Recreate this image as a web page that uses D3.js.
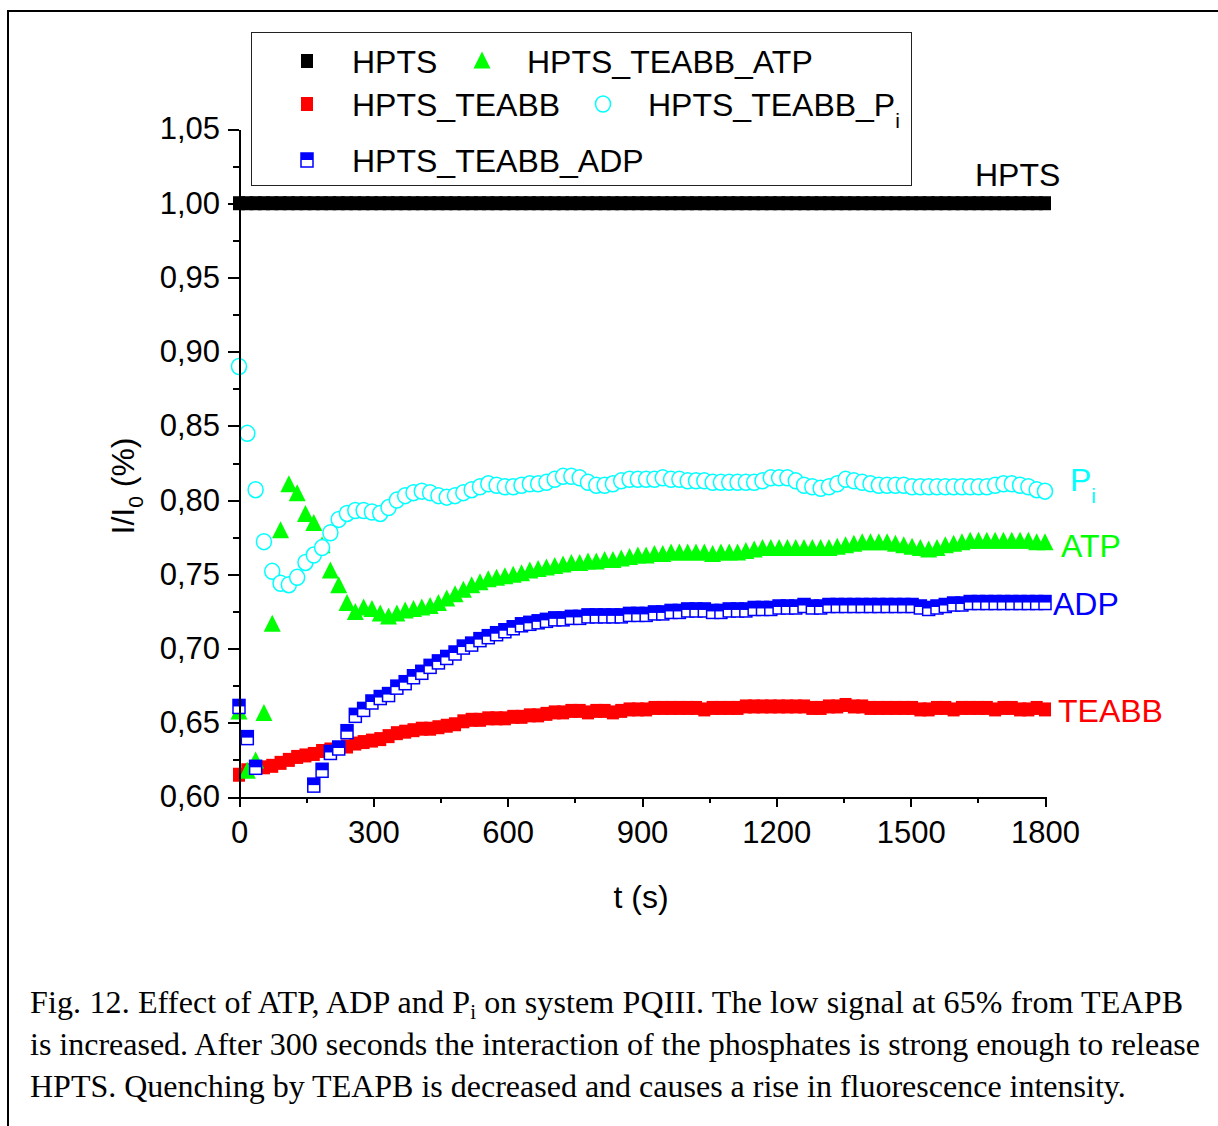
<!DOCTYPE html>
<html lang="en">
<head>
<meta charset="UTF-8">
<title>HPTS / TEABB with ATP, ADP and Pi</title>
<style>
    body { margin: 0; background: #fff; }
    svg { display: block; }
    .axis path, .axis line {
        fill: none;
        stroke: #000;
        stroke-width: 2px;
        shape-rendering: crispEdges;
    }
    .axis text {
        font-family: "Liberation Sans", Arial, sans-serif;
        font-size: 31px;
        fill: #000;
    }
    .lab { font-family: "Liberation Sans", Arial, sans-serif; font-size: 32px; }
    .cap { font-family: "Liberation Serif", "Times New Roman", serif; font-size: 32px; fill: #000; }
</style>
</head>
<body>
<script src="https://d3js.org/d3.v7.min.js"></script>
<script>
// sampling interval of the measurement (98 readings over 1800 s)
var dt = 1800 / 97;

var hpts = [
    1.000, 1.000, 1.000, 1.000, 1.000, 1.000, 1.000, 1.000, 1.000, 1.000,
    1.000, 1.000, 1.000, 1.000, 1.000, 1.000, 1.000, 1.000, 1.000, 1.000,
    1.000, 1.000, 1.000, 1.000, 1.000, 1.000, 1.000, 1.000, 1.000, 1.000,
    1.000, 1.000, 1.000, 1.000, 1.000, 1.000, 1.000, 1.000, 1.000, 1.000,
    1.000, 1.000, 1.000, 1.000, 1.000, 1.000, 1.000, 1.000, 1.000, 1.000,
    1.000, 1.000, 1.000, 1.000, 1.000, 1.000, 1.000, 1.000, 1.000, 1.000,
    1.000, 1.000, 1.000, 1.000, 1.000, 1.000, 1.000, 1.000, 1.000, 1.000,
    1.000, 1.000, 1.000, 1.000, 1.000, 1.000, 1.000, 1.000, 1.000, 1.000,
    1.000, 1.000, 1.000, 1.000, 1.000, 1.000, 1.000, 1.000, 1.000, 1.000,
    1.000, 1.000, 1.000, 1.000, 1.000, 1.000, 1.000, 1.000
];
var teabb = [
    0.615, 0.618, 0.620, 0.620, 0.621, 0.623, 0.625, 0.627, 0.628, 0.629,
    0.631, 0.632, 0.633, 0.634, 0.636, 0.637, 0.638, 0.639, 0.641, 0.643,
    0.644, 0.645, 0.646, 0.646, 0.647, 0.648, 0.649, 0.651, 0.652, 0.652,
    0.653, 0.653, 0.653, 0.654, 0.654, 0.655, 0.655, 0.656, 0.657, 0.657,
    0.658, 0.658, 0.657, 0.658, 0.658, 0.657, 0.658, 0.659, 0.659, 0.659,
    0.660, 0.660, 0.660, 0.660, 0.660, 0.660, 0.659, 0.660, 0.660, 0.660,
    0.660, 0.661, 0.661, 0.661, 0.661, 0.661, 0.661, 0.661, 0.661, 0.660,
    0.660, 0.661, 0.661, 0.662, 0.661, 0.661, 0.660, 0.660, 0.660, 0.660,
    0.660, 0.660, 0.659, 0.659, 0.660, 0.660, 0.659, 0.660, 0.660, 0.660,
    0.660, 0.659, 0.660, 0.660, 0.659, 0.659, 0.660, 0.659
];
var atp = [
    0.658, 0.618, 0.625, 0.657, 0.717, 0.780, 0.811, 0.805, 0.791, 0.785,
    0.770, 0.753, 0.743, 0.731, 0.725, 0.728, 0.727, 0.724, 0.722, 0.724,
    0.726, 0.727, 0.728, 0.729, 0.731, 0.734, 0.737, 0.740, 0.743, 0.745,
    0.747, 0.748, 0.749, 0.750, 0.751, 0.753, 0.754, 0.755, 0.756, 0.757,
    0.758, 0.758, 0.759, 0.759, 0.760, 0.760, 0.761, 0.762, 0.763, 0.763,
    0.764, 0.764, 0.765, 0.765, 0.765, 0.765, 0.765, 0.764, 0.765, 0.765,
    0.765, 0.766, 0.767, 0.768, 0.768, 0.768, 0.768, 0.768, 0.768, 0.768,
    0.768, 0.768, 0.769, 0.770, 0.771, 0.772, 0.772, 0.772, 0.772, 0.771,
    0.770, 0.769, 0.768, 0.767, 0.768, 0.770, 0.771, 0.772, 0.773, 0.773,
    0.773, 0.773, 0.773, 0.773, 0.773, 0.773, 0.772, 0.772
];
var pi = [
    0.890, 0.845, 0.807, 0.772, 0.752, 0.744, 0.743, 0.748, 0.758, 0.763,
    0.768, 0.778, 0.787, 0.791, 0.793, 0.793, 0.792, 0.791, 0.795, 0.800,
    0.803, 0.805, 0.806, 0.805, 0.803, 0.802, 0.803, 0.805, 0.807, 0.809,
    0.811, 0.810, 0.809, 0.809, 0.810, 0.811, 0.811, 0.812, 0.814, 0.816,
    0.816, 0.815, 0.812, 0.810, 0.810, 0.811, 0.813, 0.814, 0.814, 0.814,
    0.814, 0.815, 0.814, 0.814, 0.813, 0.813, 0.813, 0.812, 0.812, 0.812,
    0.812, 0.812, 0.812, 0.813, 0.815, 0.815, 0.815, 0.813, 0.810, 0.809,
    0.808, 0.809, 0.811, 0.814, 0.813, 0.812, 0.811, 0.810, 0.810, 0.810,
    0.810, 0.809, 0.809, 0.809, 0.809, 0.809, 0.809, 0.809, 0.809, 0.809,
    0.809, 0.810, 0.811, 0.811, 0.810, 0.809, 0.807, 0.806
];
// readings below 0,60 are off the plotted range
var adp = [
    0.661, 0.640, 0.620, null, null, null, null, null, null, 0.608,
    0.618, 0.630, 0.633, 0.644, 0.655, 0.659, 0.664, 0.667, 0.669, 0.674,
    0.677, 0.681, 0.684, 0.688, 0.691, 0.694, 0.697, 0.701, 0.703, 0.706,
    0.708, 0.710, 0.712, 0.714, 0.716, 0.717, 0.718, 0.719, 0.720, 0.720,
    0.721, 0.721, 0.722, 0.722, 0.722, 0.722, 0.722, 0.723, 0.723, 0.723,
    0.724, 0.724, 0.725, 0.725, 0.726, 0.726, 0.726, 0.725, 0.725, 0.726,
    0.726, 0.726, 0.727, 0.727, 0.727, 0.728, 0.728, 0.728, 0.729, 0.728,
    0.728, 0.729, 0.729, 0.729, 0.729, 0.729, 0.729, 0.729, 0.729, 0.729,
    0.729, 0.729, 0.728, 0.727, 0.728, 0.729, 0.730, 0.730, 0.731, 0.731,
    0.731, 0.731, 0.731, 0.731, 0.731, 0.731, 0.731, 0.731
];

var xTicks = [0, 300, 600, 900, 1200, 1500, 1800];
var xMinor = [150, 450, 750, 1050, 1350, 1650];
var yTicks = [0.60, 0.65, 0.70, 0.75, 0.80, 0.85, 0.90, 0.95, 1.00, 1.05];
var yMinor = [0.625, 0.675, 0.725, 0.775, 0.825, 0.875, 0.925, 0.975, 1.025];

var times = d3.range(hpts.length).map(function (i) { return i * dt; });

var width = 1218, height = 1126;
var svg = d3.select('body').append('svg').attr('width', width).attr('height', height);

// outer frame
svg.append('rect').attr('x', 8).attr('y', 11).attr('width', 1240).attr('height', 1140)
    .attr('fill', 'none').attr('stroke', '#000').attr('stroke-width', 2);

var x = d3.scaleLinear().domain([0, 1800]).range([239, 1045]);
var y = d3.scaleLinear().domain([0.60, 1.05]).range([797, 129]);

function pts(vals) {
    return vals.map(function (v, i) { return { t: times[i], v: v }; })
        .filter(function (d) { return d.v !== null; });
}

var plot = svg.append('g');
var SW = 12, SH = 14;

// HPTS and TEABB: filled squares
function squares(vals, color) {
    plot.append('g').selectAll('rect').data(pts(vals)).enter().append('rect')
        .attr('x', function (d) { return x(d.t) - SW / 2; })
        .attr('y', function (d) { return y(d.v) - SH / 2; })
        .attr('width', SW).attr('height', SH)
        .attr('fill', color);
}
squares(hpts, '#000');
squares(teabb, '#ff0000');

// ATP: up triangles
var tri = 'M0,-8.5L8.5,8.5L-8.5,8.5Z';
plot.append('g').selectAll('path').data(pts(atp)).enter().append('path')
    .attr('d', tri)
    .attr('transform', function (d) { return 'translate(' + x(d.t) + ',' + y(d.v) + ')'; })
    .attr('fill', '#00ff00');

// Pi: open circles
plot.append('g').selectAll('ellipse').data(pts(pi)).enter().append('ellipse')
    .attr('cx', function (d) { return x(d.t); })
    .attr('cy', function (d) { return y(d.v); })
    .attr('rx', 7.5).attr('ry', 8)
    .attr('fill', '#fff').attr('stroke', '#00ffff').attr('stroke-width', 1.5);

// ADP: half filled squares
var adpG = plot.append('g').selectAll('g').data(pts(adp)).enter().append('g')
    .attr('transform', function (d) { return 'translate(' + x(d.t) + ',' + y(d.v) + ')'; });
adpG.append('rect').attr('x', -SW / 2).attr('y', -SH / 2).attr('width', SW).attr('height', SH)
    .attr('fill', '#fff').attr('stroke', '#0000ff').attr('stroke-width', 1.5);
adpG.append('rect').attr('x', -SW / 2).attr('y', -SH / 2).attr('width', SW).attr('height', SH / 2)
    .attr('fill', '#0000ff');

// axes
var fmt = function (d) { return d.toFixed(2).replace('.', ','); };
svg.append('g').attr('class', 'axis').attr('transform', 'translate(0,797)')
    .call(d3.axisBottom(x).tickValues(xMinor).tickSize(6).tickSizeOuter(0).tickFormat(''));
svg.append('g').attr('class', 'axis').attr('transform', 'translate(0,797)')
    .call(d3.axisBottom(x).tickValues(xTicks).tickSize(10).tickSizeOuter(0).tickPadding(14)
        .tickFormat(d3.format('d')));
svg.append('g').attr('class', 'axis').attr('transform', 'translate(239,0)')
    .call(d3.axisLeft(y).tickValues(yMinor).tickSize(6).tickSizeOuter(0).tickFormat(''));
svg.append('g').attr('class', 'axis').attr('transform', 'translate(239,0)')
    .call(d3.axisLeft(y).tickValues(yTicks).tickSize(11).tickSizeOuter(0).tickPadding(8)
        .tickFormat(fmt));

// axis titles
svg.append('text').attr('class', 'lab').attr('x', 641).attr('y', 908)
    .attr('text-anchor', 'middle').text('t (s)');
var yt = svg.append('text').attr('class', 'lab')
    .attr('transform', 'translate(134,486) rotate(-90)').attr('text-anchor', 'middle');
yt.append('tspan').text('I/I');
yt.append('tspan').attr('dy', 9).attr('font-size', 21).text('0');
yt.append('tspan').attr('dy', -9).text(' (%)');

// end-of-curve labels
svg.append('text').attr('class', 'lab').attr('x', 975).attr('y', 186).attr('fill', '#000').text('HPTS');
var pl = svg.append('text').attr('class', 'lab').attr('x', 1070).attr('y', 491).attr('fill', '#00ffff');
pl.append('tspan').text('P');
pl.append('tspan').attr('dy', 12).attr('font-size', 21).text('i');
svg.append('text').attr('class', 'lab').attr('x', 1061).attr('y', 557).attr('fill', '#00ff00').text('ATP');
svg.append('text').attr('class', 'lab').attr('x', 1053).attr('y', 615).attr('fill', '#0000ff').text('ADP');
svg.append('text').attr('class', 'lab').attr('x', 1058).attr('y', 722).attr('fill', '#ff0000').text('TEABB');

// legend
var lg = svg.append('g');
lg.append('rect').attr('x', 251.5).attr('y', 32.5).attr('width', 660).attr('height', 153)
    .attr('fill', '#fff').attr('stroke', '#222').attr('stroke-width', 1);
lg.append('rect').attr('x', 307 - SW / 2).attr('y', 61 - SH / 2).attr('width', SW).attr('height', SH).attr('fill', '#000');
lg.append('rect').attr('x', 307 - SW / 2).attr('y', 104 - SH / 2).attr('width', SW).attr('height', SH).attr('fill', '#ff0000');
lg.append('rect').attr('x', 307 - SW / 2).attr('y', 160 - SH / 2).attr('width', SW).attr('height', SH)
    .attr('fill', '#fff').attr('stroke', '#0000ff').attr('stroke-width', 1.5);
lg.append('rect').attr('x', 307 - SW / 2).attr('y', 160 - SH / 2).attr('width', SW).attr('height', SH / 2).attr('fill', '#0000ff');
lg.append('path').attr('d', tri).attr('transform', 'translate(482,60)').attr('fill', '#00ff00');
lg.append('ellipse').attr('cx', 603).attr('cy', 104).attr('rx', 7.5).attr('ry', 8)
    .attr('fill', '#fff').attr('stroke', '#00ffff').attr('stroke-width', 1.5);
lg.append('text').attr('class', 'lab').attr('x', 352).attr('y', 73).text('HPTS');
lg.append('text').attr('class', 'lab').attr('x', 527).attr('y', 73).text('HPTS_TEABB_ATP');
lg.append('text').attr('class', 'lab').attr('x', 352).attr('y', 116).text('HPTS_TEABB');
var lp = lg.append('text').attr('class', 'lab').attr('x', 648).attr('y', 116);
lp.append('tspan').text('HPTS_TEABB_P');
lp.append('tspan').attr('dy', 12).attr('font-size', 21).text('i');
lg.append('text').attr('class', 'lab').attr('x', 352).attr('y', 172).text('HPTS_TEABB_ADP');

// caption
var c1 = svg.append('text').attr('class', 'cap').attr('x', 30).attr('y', 1013)
    .attr('textLength', 1153).attr('lengthAdjust', 'spacing');
c1.append('tspan').text('Fig. 12. Effect of ATP, ADP and P');
c1.append('tspan').attr('dy', 6).attr('font-size', 21).text('i');
c1.append('tspan').attr('dy', -6).text(' on system PQIII. The low signal at 65% from TEAPB');
svg.append('text').attr('class', 'cap').attr('x', 30).attr('y', 1055)
    .attr('textLength', 1170).attr('lengthAdjust', 'spacing')
    .text('is increased. After 300 seconds the interaction of the phosphates is strong enough to release');
svg.append('text').attr('class', 'cap').attr('x', 30).attr('y', 1097)
    .text('HPTS. Quenching by TEAPB is decreased and causes a rise in fluorescence intensity.');
</script>
</body>
</html>
